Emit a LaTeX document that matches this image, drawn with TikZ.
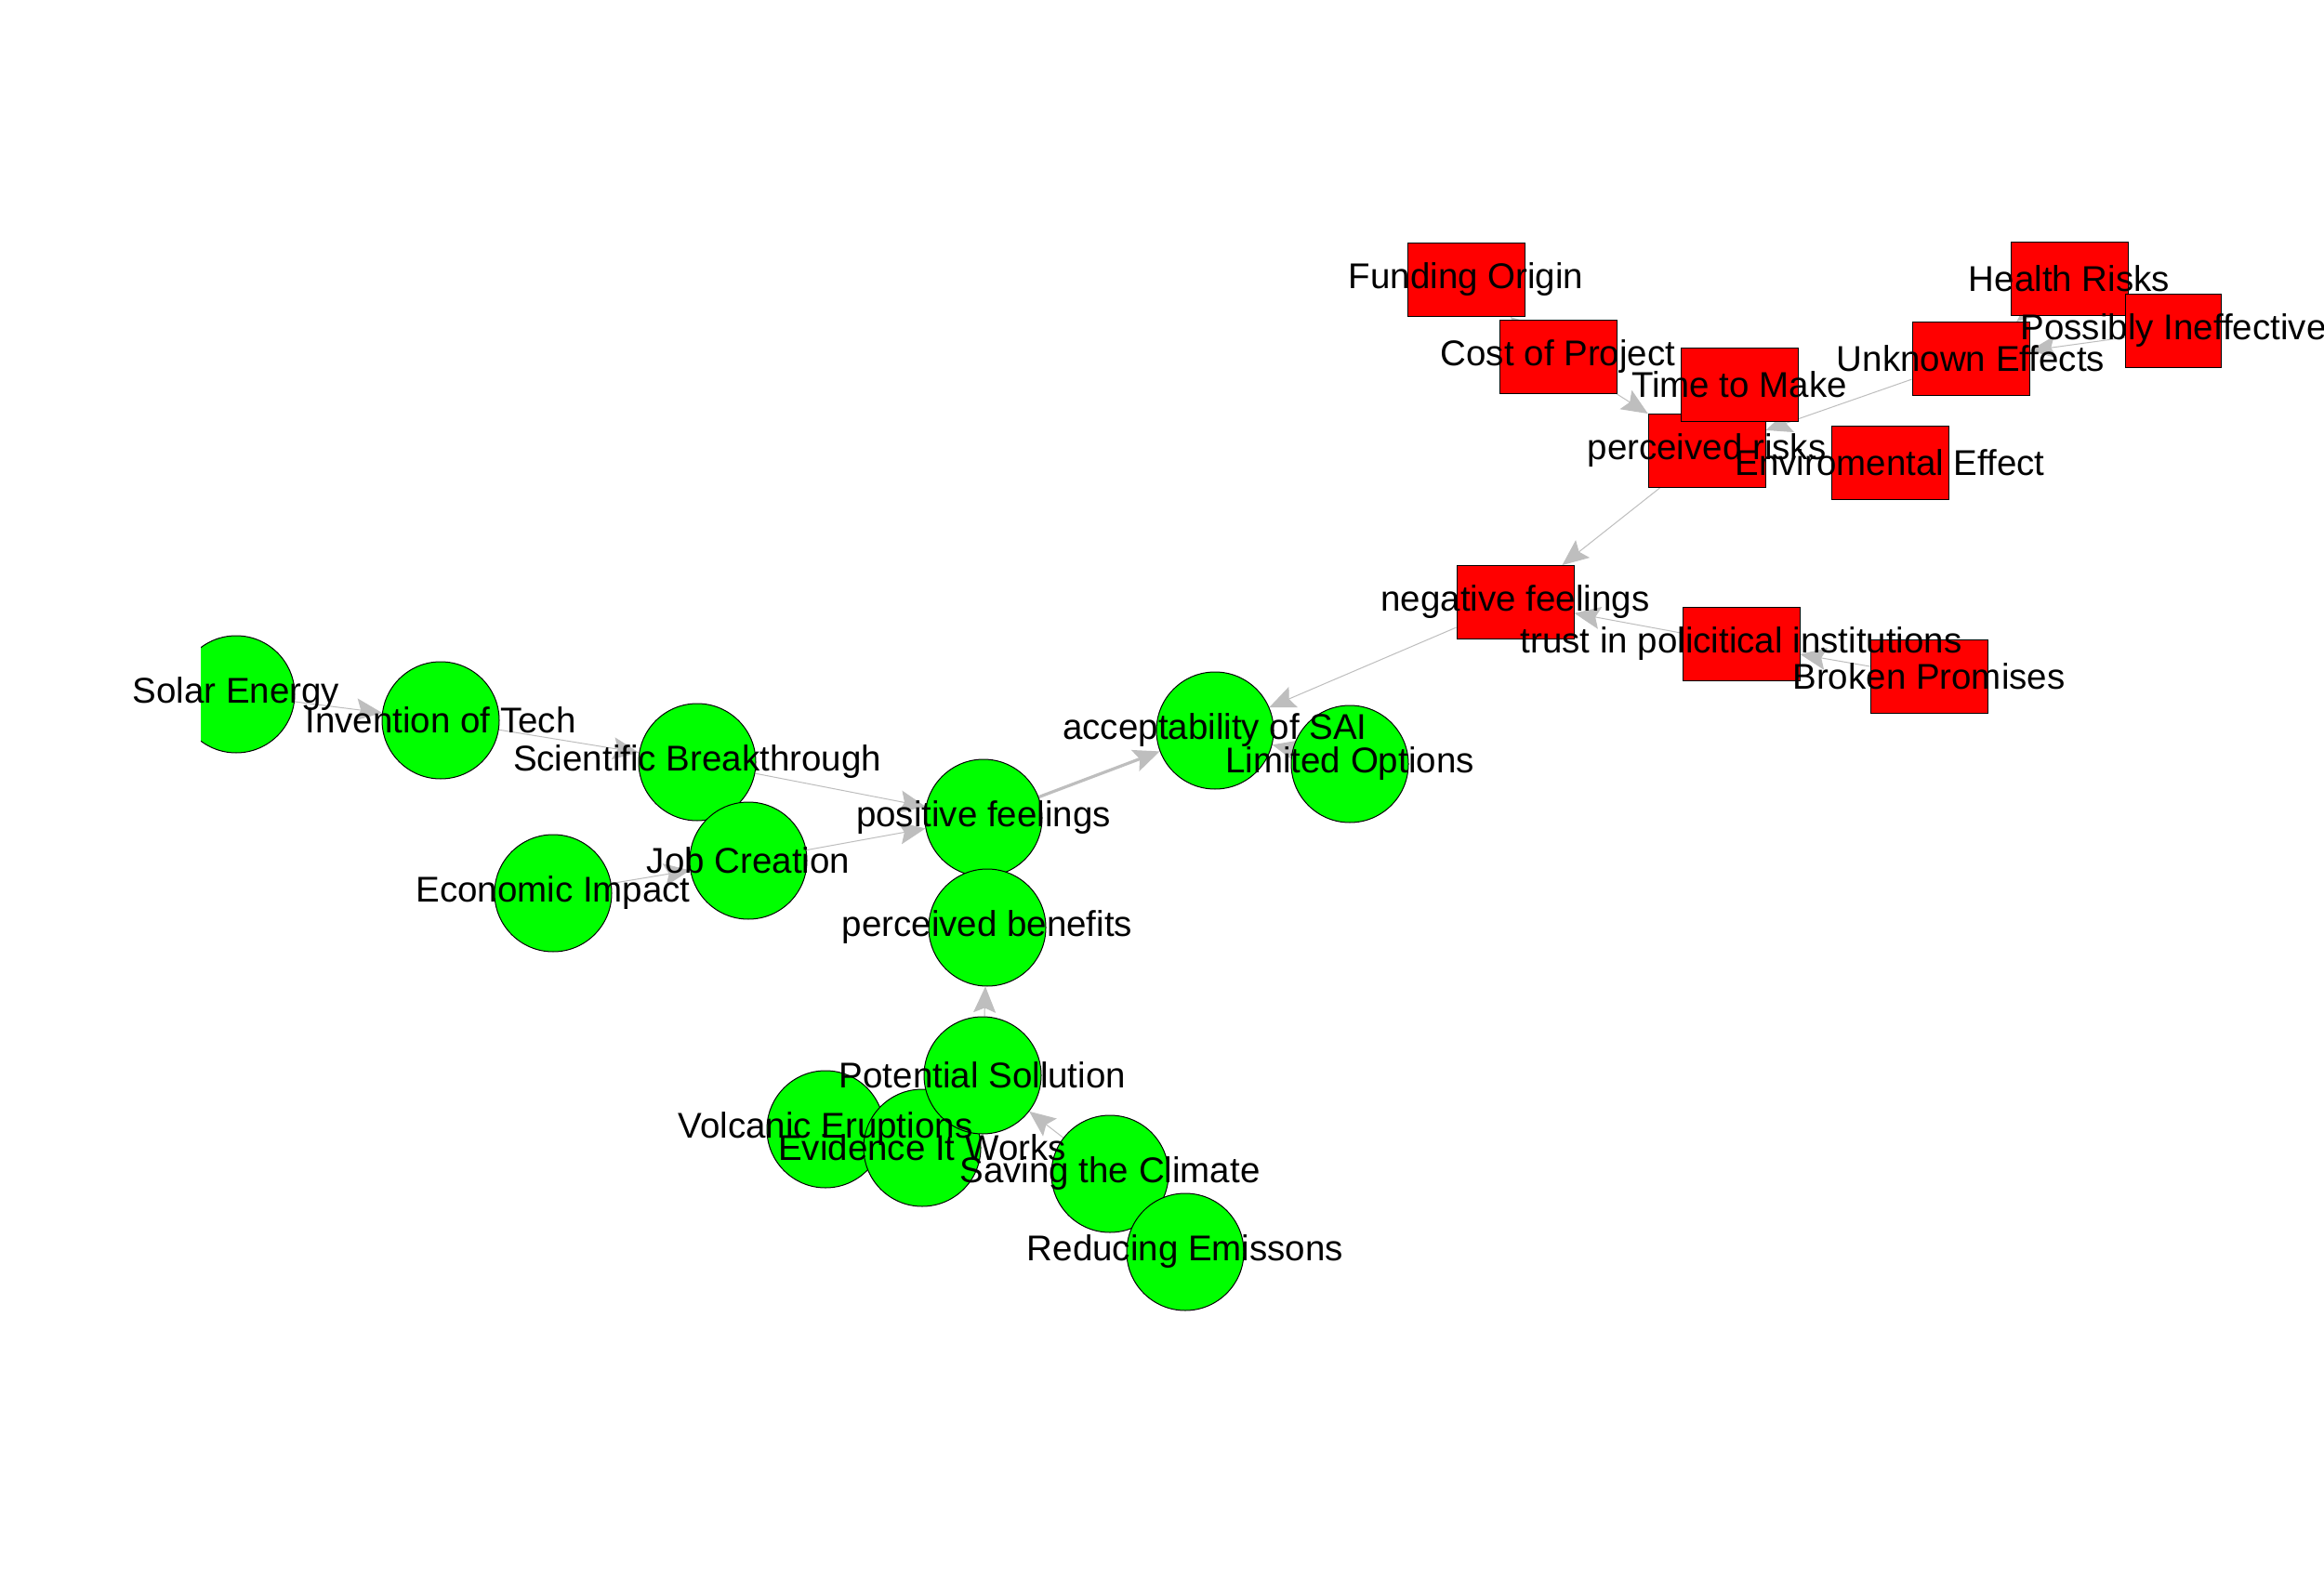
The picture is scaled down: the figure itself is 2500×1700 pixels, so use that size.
\documentclass[tikz,border=0pt]{standalone}
\usepackage{fontspec}
\setmainfont{Liberation Sans}
\usetikzlibrary{arrows.meta}
\definecolor{edgegray}{RGB}{190,190,190}
\definecolor{nodegreen}{RGB}{0,255,0}
\definecolor{nodered}{RGB}{255,0,0}
\pgfdeclarelayer{edges}
\pgfdeclarelayer{labels}
\pgfsetlayers{edges,main,labels}
\begin{document}
\begin{tikzpicture}[x=0.5pt,y=-0.5pt,
  gnode/.style={circle, draw=black, line width=0.5pt, fill=nodegreen, minimum size=63pt, inner sep=0pt},
  rnode/.style={rectangle, draw=black, line width=0.5pt, fill=nodered, minimum width=63pt, minimum height=39.5pt, inner sep=0pt},
  lbl/.style={font=\fontsize{19.25pt}{23pt}\selectfont, text=black, inner sep=0pt},
  edge/.style={draw=edgegray, line width=0.5pt, -{Stealth[length=14pt,width=12pt,inset=2.5pt]}},
  heavy/.style={line width=1.6pt}]

\begin{pgfonlayer}{edges}
\fill[white] (0,0) rectangle (2500,1700);
\end{pgfonlayer}
\path[use as bounding box] (0,0) rectangle (2500,1700);

\begin{scope}
\clip (216,0) rectangle (2500,1700);
% green vertices
\node[gnode] (solar) at (254,747) {};
\node[gnode] (invention) at (474,775) {};
\node[gnode] (scientific) at (750,820) {};
\node[gnode] (job) at (805,926) {};
\node[gnode] (economic) at (595,961) {};
\node[gnode] (positive) at (1058,880) {};
\node[gnode] (benefits) at (1062,998) {};
\node[gnode] (accept) at (1307,786) {};
\node[gnode] (limited) at (1452,822) {};
\node[gnode] (volcanic) at (888,1215) {};
\node[gnode] (evidence) at (992,1235) {};
\node[gnode] (potential) at (1057,1157) {};
\node[gnode] (saving) at (1194,1263) {};
\node[gnode] (reducing) at (1275,1347) {};
% red vertices
\node[rnode] (funding) at (1577,301) {};
\node[rnode] (cost) at (1676,384) {};
\node[rnode] (risks) at (1836,485) {};
\node[rnode] (time) at (1871,414) {};
\node[rnode] (envir) at (2033,498) {};
\node[rnode] (unknown) at (2120,386) {};
\node[rnode] (health) at (2226,300) {};
\node[rnode, minimum width=51.5pt] (possibly) at (2338,356) {};
\node[rnode] (negative) at (1630,648) {};
\node[rnode] (trust) at (1873,693) {};
\node[rnode] (broken) at (2075,728) {};
\end{scope}

% connectors, under the vertices
\begin{pgfonlayer}{edges}
\draw[edge] (solar) -- (invention);
\draw[edge] (invention) -- (scientific);
\draw[edge] (scientific) -- (positive);
\draw[edge] (job) -- (positive);
\draw[edge] (economic) -- (job);
\draw[edge, heavy] (positive) -- (accept);
\draw[edge] (negative) -- (accept);
\draw[edge] (limited) -- (accept);
\draw[edge] (potential) -- (benefits);
\draw[edge] (saving) -- (potential);
\draw[edge] (cost) -- (funding);
\draw[edge] (cost) -- (risks);
\draw[edge] (unknown) -- (risks);
\draw[edge] (possibly) -- (unknown);
\draw[edge] (health) -- (unknown);
\draw[edge] (risks) -- (negative);
\draw[edge] (trust) -- (negative);
\draw[edge] (broken) -- (trust);
\end{pgfonlayer}

% vertex labels, above everything
\begin{pgfonlayer}{labels}
\node[lbl] (solar-t) at (solar) {Solar Energy};
\node[lbl] (invention-t) at (invention) {Invention of Tech};
\node[lbl] (scientific-t) at (scientific) {Scientific Breakthrough};
\node[lbl] (job-t) at (job) {Job Creation};
\node[lbl] (economic-t) at (economic) {Economic Impact};
\node[lbl] (positive-t) at (positive) {positive feelings};
\node[lbl] (benefits-t) at (benefits) {perceived benefits};
\node[lbl] (accept-t) at (accept) {acceptability of SAI};
\node[lbl] (limited-t) at (limited) {Limited Options};
\node[lbl] (volcanic-t) at (volcanic) {Volcanic Eruptions};
\node[lbl] (evidence-t) at (evidence) {Evidence It Works};
\node[lbl] (potential-t) at (potential) {Potential Sollution};
\node[lbl] (saving-t) at (saving) {Saving the Climate};
\node[lbl] (reducing-t) at (reducing) {Reducing Emissons};
\node[lbl] (funding-t) at (funding) {Funding Origin};
\node[lbl] (cost-t) at (cost) {Cost of Project};
\node[lbl] (risks-t) at (risks) {perceived risks};
\node[lbl] (time-t) at (time) {Time to Make};
\node[lbl] (envir-t) at (envir) {Enviromental Effect};
\node[lbl] (unknown-t) at (unknown) {Unknown Effects};
\node[lbl] (health-t) at (health) {Health Risks};
\node[lbl] (possibly-t) at (possibly) {Possibly Ineffective};
\node[lbl] (negative-t) at (negative) {negative feelings};
\node[lbl] (trust-t) at (trust) {trust in policitical institutions};
\node[lbl] (broken-t) at (broken) {Broken Promises};
\end{pgfonlayer}

\end{tikzpicture}
\end{document}
